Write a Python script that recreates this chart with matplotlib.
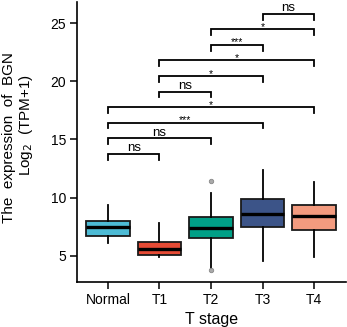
import matplotlib
matplotlib.use("Agg")
import matplotlib.pyplot as plt

plt.rcParams['font.family'] = ['Liberation Sans', 'DejaVu Sans']

groups = ["Normal", "T1", "T2", "T3", "T4"]
colors = ["#4DBBD5", "#E64B35", "#00A087", "#3C5488", "#F39B7F"]
q1 = [6.72, 5.03, 6.52, 7.44, 7.24]
med = [7.44, 5.58, 7.39, 8.59, 8.39]
q3 = [8.02, 6.15, 8.36, 9.89, 9.37]
whislo = [6.06, 4.91, 3.94, 4.51, 4.86]
whishi = [9.40, 7.82, 10.40, 12.39, 11.32]
fliers = [[], [], [11.40, 3.77], [], []]

comp_a = ["Normal", "Normal", "Normal", "Normal", "T1", "T1", "T1", "T2", "T2", "T3"]
comp_b = ["T1", "T2", "T3", "T4", "T2", "T3", "T4", "T3", "T4", "T4"]
comp_lab = ["ns", "ns", "***", "*", "ns", "*", "*", "***", "*", "ns"]

W, H = 347, 327
fig = plt.figure(figsize=(W / 100, H / 100), dpi=100)
ax = fig.add_axes([77 / W, 1 - 282.3 / H, (346 - 77) / W, (282.3 - 2) / H])

stats = []
for i, g in enumerate(groups):
    stats.append(dict(label=g, med=med[i], q1=q1[i], q3=q3[i],
                      whislo=whislo[i], whishi=whishi[i], fliers=fliers[i]))

bp = ax.bxp(stats, positions=range(len(groups)), widths=0.84, patch_artist=True,
            showcaps=False,
            boxprops=dict(edgecolor="#1a1a1a", linewidth=1.3),
            medianprops=dict(color="black", linewidth=2.4, solid_capstyle="butt"),
            whiskerprops=dict(color="black", linewidth=1.3),
            flierprops=dict(marker="o", markersize=3.2, markerfacecolor="#aaaaaa",
                            markeredgecolor="#888888", markeredgewidth=0.6))
for patch, c in zip(bp["boxes"], colors):
    patch.set_facecolor(c)

# significance brackets
base, step, tick = 13.77, 1.338, 0.5
for k, (a, b, lab) in enumerate(zip(comp_a, comp_b, comp_lab)):
    xa, xb = groups.index(a), groups.index(b)
    y = base + k * step
    ax.plot([xa, xa, xb, xb], [y - tick, y, y, y - tick], color="black",
            linewidth=1.3, solid_joinstyle="miter", clip_on=False)
    if lab == "ns":
        ax.text((xa + xb) / 2, y + 0.22, lab, ha="center", va="baseline", fontsize=9.5)
    else:
        ax.text((xa + xb) / 2, y - 0.05, lab, ha="center", va="baseline", fontsize=7.5)

ax.set_xlim(-0.6, 4.62)
ax.set_ylim(2.71, 26.83)
ax.set_yticks([5, 10, 15, 20, 25])
ax.set_xticks(range(len(groups)))
ax.set_xticklabels(groups)
ax.tick_params(axis="both", labelsize=10, length=5, width=1.1, direction="out", pad=3)
for s in ["top", "right"]:
    ax.spines[s].set_visible(False)
for s in ["left", "bottom"]:
    ax.spines[s].set_linewidth(1.2)

ax.set_xlabel("T stage", fontsize=11.5, labelpad=3)
fig.text(9 / W, 1 - 138 / H, "The  expression  of  BGN", rotation=90,
         ha="center", va="center", fontsize=11)
fig.text(26 / W, 1 - 125 / H, "Log$_2$  (TPM+1)", rotation=90,
         ha="center", va="center", fontsize=11)

fig.savefig("out.png", dpi=100)
